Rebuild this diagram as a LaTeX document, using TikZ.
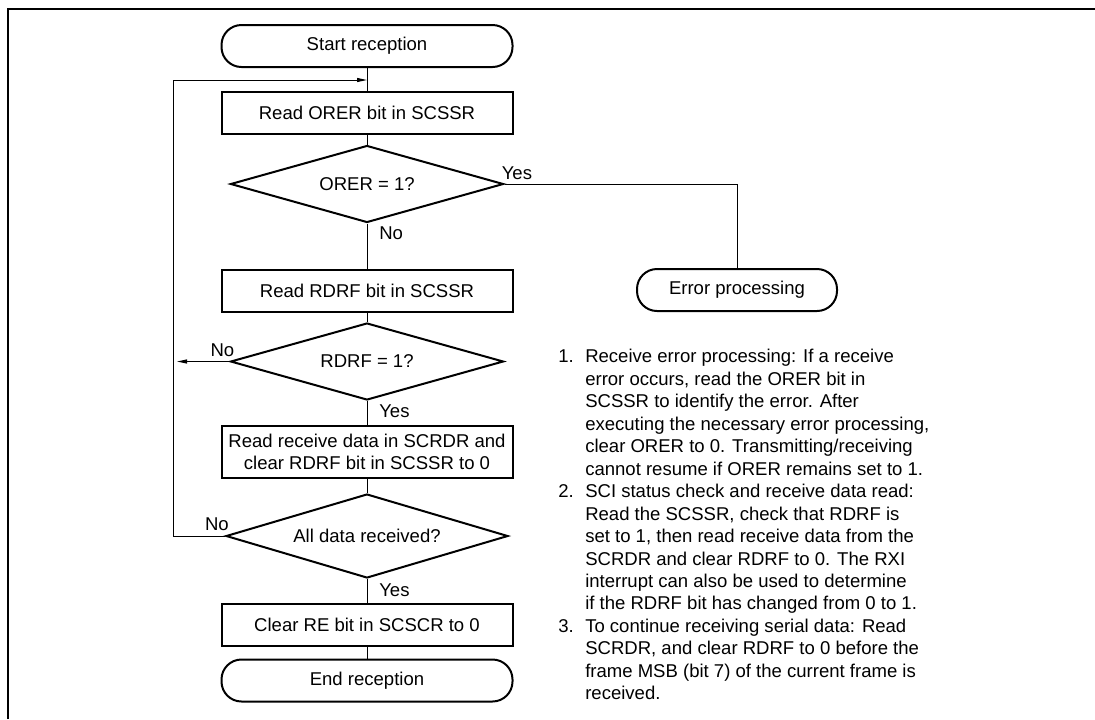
\documentclass[tikz,border=0pt]{standalone}
\usepackage{fontspec}
\setmainfont{Liberation Sans}
\usetikzlibrary{shapes.geometric, arrows.meta, positioning}

\tikzset{
  procbox/.style={draw, line width=1.5pt, minimum width=218.25pt, minimum height=31.5pt, inner sep=0pt, align=center},
  termbox/.style={draw, line width=1.5pt, rounded corners=15pt, minimum width=218.25pt, minimum height=31.5pt, inner sep=0pt},
  decide/.style={draw, diamond, aspect=3.5, line width=1.5pt, minimum width=204.75pt, minimum height=57.75pt, inner sep=0pt},
  flow/.style={line width=0.75pt},
  answer/.style={inner sep=0pt},
  tip/.style={-{Triangle[length=7.5pt, width=3pt]}},
}

\begin{document}
\begin{tikzpicture}[x=0.75pt, y=-0.75pt, font=\fontsize{13.9pt}{16.85pt}\selectfont]
\useasboundingbox (0,0) rectangle (1095,719);
% frame
\draw[line width=1.5pt] (8,719) -- (8,9) -- (1095,9);

% main column
\node[termbox] (start) at (367,46) {Start reception};
\node[procbox] (readorer) at (367,112.5) {Read ORER bit in SCSSR};
\node[decide] (orer) at (367,184) {ORER = 1?};
\node[procbox] (readrdrf) at (367,290.5) {Read RDRF bit in SCSSR};
\node[decide] (rdrf) at (367,361.5) {RDRF = 1?};
\node[procbox, minimum height=39pt] (readdata) at (367,452) {Read receive data in SCRDR and\\clear RDRF bit in SCSSR to 0};
\node[decide, minimum width=211.5pt, minimum height=63pt] (alldata) at (367,536) {All data received?};
\node[procbox] (clearre) at (367,625) {Clear RE bit in SCSCR to 0};
\node[termbox] (finish) at (367,680.5) {End reception};
\node[termbox, minimum width=150pt] (errproc) at (737,290) {Error processing};

\coordinate (loopin) at (367,80);
\coordinate (looptl) at (173,80);
\coordinate (loopbl) at (173,536);

% connectors
\draw[flow] (start) -- (readorer);
\draw[flow] (readorer) -- (orer);
\draw[flow] (orer) -- (readrdrf);
\draw[flow] (readrdrf) -- (rdrf);
\draw[flow] (rdrf) -- (readdata);
\draw[flow] (readdata) -- (alldata);
\draw[flow] (alldata) -- (clearre);
\draw[flow] (clearre) -- (finish);
\draw[flow] (orer.east) -| (errproc.north);
\draw[flow, tip] (alldata.west) -- (loopbl) -- (looptl) -- (loopin);
\draw[flow, tip, shorten >=3pt] (rdrf.west) -- (rdrf.west -| loopbl);

% branch labels
\node[answer, anchor=west] (yesorer) at ([xshift=-2.25pt, yshift=8.25pt]orer.east) {Yes};
\node[answer, anchor=west] (noorer) at ([xshift=9pt, yshift=-7.5pt]orer.south) {No};
\node[answer, anchor=east] (nordrf) at ([xshift=3.75pt, yshift=8.6pt]rdrf.west) {No};
\node[answer, anchor=west] (yesrdrf) at ([xshift=9pt, yshift=-7.5pt]rdrf.south) {Yes};
\node[answer, anchor=east] (noall) at ([xshift=3pt, yshift=9pt]alldata.west) {No};
\node[answer, anchor=west] (yesall) at ([xshift=9pt, yshift=-8.25pt]alldata.south) {Yes};

% notes
\node[anchor=north west, inner sep=0pt] (notes) at (558,346.8) {%
\begin{tabular}{@{}p{20.25pt}@{}l@{}}
1. & Receive error processing: If a receive\\
 & error occurs, read the ORER bit in\\
 & SCSSR to identify the error. After\\
 & executing the necessary error processing,\\
 & clear ORER to 0. Transmitting/receiving\\
 & cannot resume if ORER remains set to 1.\\
2. & SCI status check and receive data read:\\
 & Read the SCSSR, check that RDRF is\\
 & set to 1, then read receive data from the\\
 & SCRDR and clear RDRF to 0. The RXI\\
 & interrupt can also be used to determine\\
 & if the RDRF bit has changed from 0 to 1.\\
3. & To continue receiving serial data: Read\\
 & SCRDR, and clear RDRF to 0 before the\\
 & frame MSB (bit 7) of the current frame is\\
 & received.
\end{tabular}};
\end{tikzpicture}
\end{document}
